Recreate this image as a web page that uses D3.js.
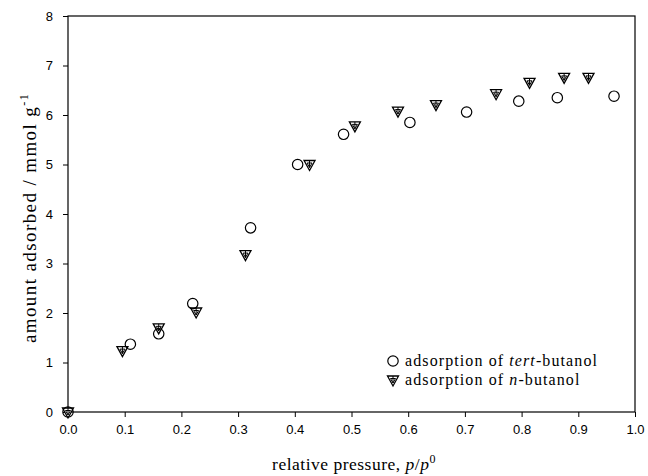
<!DOCTYPE html>
<html>
<head>
<meta charset="utf-8">
<script src="https://cdn.jsdelivr.net/npm/d3@7"></script>
<style>
  body { margin: 0; background: #fff; }
  .tick text { font-family: "Liberation Sans", Arial, sans-serif; }
</style>
</head>
<body>
<div id="chart"></div>
<script>
// relative pressure p/p0 and amount adsorbed (mmol/g)
const tertP = [0.0, 0.110, 0.160, 0.220, 0.322, 0.405, 0.486, 0.603, 0.703, 0.795, 0.863, 0.963];
const tertA = [0.0, 1.37, 1.58, 2.19, 3.72, 5.00, 5.61, 5.85, 6.06, 6.28, 6.35, 6.38];
const nP = [0.0, 0.096, 0.160, 0.226, 0.313, 0.426, 0.506, 0.582, 0.649, 0.755, 0.814, 0.875, 0.918];
const nA = [0.0, 1.24, 1.70, 2.02, 3.18, 5.00, 5.78, 6.08, 6.21, 6.43, 6.66, 6.76, 6.76];
const xTicks = [0, 0.1, 0.2, 0.3, 0.4, 0.5, 0.6, 0.7, 0.8, 0.9, 1.0];
const yTicks = [0, 1, 2, 3, 4, 5, 6, 7, 8];

const width = 648, height = 476;
const margin = { top: 16, right: 13, bottom: 64, left: 68 };
const serif = "Liberation Serif, Times New Roman, serif";

const svg = d3.select("#chart")
  .append("svg")
  .attr("width", width)
  .attr("height", height);

const x = d3.scaleLinear()
  .domain([0, 1])
  .range([margin.left, width - margin.right]);

const y = d3.scaleLinear()
  .domain([0, 8])
  .range([height - margin.bottom, margin.top]);

// frame
svg.append("rect")
  .attr("x", margin.left)
  .attr("y", margin.top)
  .attr("width", x(1) - margin.left)
  .attr("height", y(0) - margin.top)
  .attr("fill", "none")
  .attr("stroke", "#000")
  .attr("stroke-width", 1.2);

// axes
svg.append("g")
  .attr("transform", `translate(0,${y(0)})`)
  .call(d3.axisBottom(x).tickValues(xTicks).tickFormat(d3.format(".1f")).tickSize(5).tickPadding(8))
  .call(g => g.select(".domain").remove())
  .call(g => g.selectAll("text").attr("font-size", 13).attr("fill", "#000"));

svg.append("g")
  .attr("transform", `translate(${margin.left},0)`)
  .call(d3.axisLeft(y).tickValues(yTicks).tickFormat(d3.format("d")).tickSize(5).tickPadding(10))
  .call(g => g.select(".domain").remove())
  .call(g => g.selectAll("text").attr("font-size", 13).attr("fill", "#000"));

// axis titles
const xLabel = svg.append("text")
  .attr("x", 354)
  .attr("y", 470)
  .attr("text-anchor", "middle")
  .attr("font-family", serif)
  .attr("font-size", 17.5)
  .attr("letter-spacing", 0.5);
xLabel.append("tspan").text("relative pressure, ");
xLabel.append("tspan").attr("font-style", "italic").text("p");
xLabel.append("tspan").text("/");
xLabel.append("tspan").attr("font-style", "italic").text("p");
xLabel.append("tspan").attr("font-size", 12).attr("dy", -7).text("0");

const yLabel = svg.append("text")
  .attr("transform", `translate(36,${218}) rotate(-90)`)
  .attr("text-anchor", "middle")
  .attr("font-family", serif)
  .attr("font-size", 19)
  .attr("letter-spacing", 1.4);
yLabel.append("tspan").text("amount adsorbed / mmol g");
yLabel.append("tspan").attr("font-size", 12).attr("dy", -8).text("-1");

// markers
const triPath = "M-5.5,-4 L5.5,-4 L0,6 Z";
const innerPath = "M-2.5,-1.5 L2.5,-1.5 L0,3 Z M0,-4 L0,3";

function drawTri(g) {
  g.append("path").attr("d", triPath)
    .attr("fill", "#fff").attr("stroke", "#000").attr("stroke-width", 1.3);
  g.append("path").attr("d", innerPath)
    .attr("fill", "none").attr("stroke", "#000").attr("stroke-width", 1);
}

const nData = nP.map((p, i) => ({ p, a: nA[i] }));
const tertData = tertP.map((p, i) => ({ p, a: tertA[i] }));

svg.append("g").selectAll("g")
  .data(nData)
  .join("g")
  .attr("transform", d => `translate(${x(d.p)},${y(d.a)})`)
  .each(function () { drawTri(d3.select(this)); });

svg.append("g").selectAll("circle")
  .data(tertData)
  .join("circle")
  .attr("cx", d => x(d.p))
  .attr("cy", d => y(d.a))
  .attr("r", 5.2)
  .attr("fill", "none")
  .attr("stroke", "#000")
  .attr("stroke-width", 1.2);

// legend
const legend = svg.append("g")
  .attr("transform", "translate(393,361)")
  .attr("font-family", serif)
  .attr("font-size", 16)
  .attr("letter-spacing", 1.1);

legend.append("circle")
  .attr("r", 5.2)
  .attr("fill", "none")
  .attr("stroke", "#000")
  .attr("stroke-width", 1.2);
const l1 = legend.append("text").attr("x", 12).attr("y", 5);
l1.append("tspan").text("adsorption of ");
l1.append("tspan").attr("font-style", "italic").text("tert");
l1.append("tspan").text("-butanol");

const tri = legend.append("g").attr("transform", "translate(0,19)");
drawTri(tri);
const l2 = legend.append("text").attr("x", 12).attr("y", 24);
l2.append("tspan").text("adsorption of ");
l2.append("tspan").attr("font-style", "italic").text("n");
l2.append("tspan").text("-butanol");
</script>
</body>
</html>
